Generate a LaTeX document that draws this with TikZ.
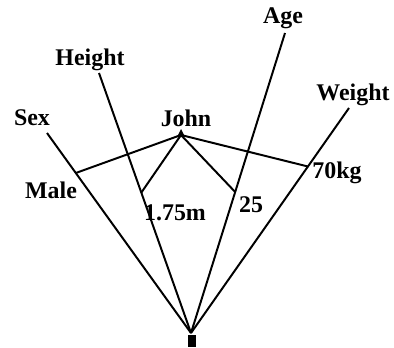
\documentclass[tikz,border=0pt]{standalone}
\usepackage{fontspec}
\setmainfont{Liberation Serif}
\usetikzlibrary{calc}

\tikzset{
  axis/.style={line width=1.4pt},
  link/.style={line width=1.4pt},
  lbl/.style={font=\fontsize{17}{19}\selectfont\bfseries, inner sep=0pt},
  dot/.style={fill=black, draw=none}
}

\begin{document}
\begin{tikzpicture}[scale=0.5]
  \useasboundingbox (0,0) rectangle (19.7,17.35);
  % root of the star
  \coordinate (O) at (9.55,0.7);
  \coordinate (sex) at (2.35,10.7);
  \coordinate (height) at (4.95,13.7);
  \coordinate (age) at (14.25,15.7);
  \coordinate (weight) at (17.45,11.95);
  \coordinate (john) at (9.05,10.6);
  % values on the axes
  \coordinate (male) at ($(O)!0.8!(sex)$);
  \coordinate (hval) at ($(O)!0.54!(height)$);
  \coordinate (aval) at ($(O)!0.47!(age)$);
  \coordinate (wval) at ($(O)!0.74!(weight)$);
  \draw[axis] (O) -- (sex);
  \draw[axis] (O) -- (height);
  \draw[axis] (O) -- (age);
  \draw[axis] (O) -- (weight);
  \draw[link] (john) -- (male);
  \draw[link] (john) -- (hval);
  \draw[link] (john) -- (aval);
  \draw[link] (john) -- (wval);
  \fill[dot] (9.4,0) rectangle (9.8,0.6);
  \fill[dot] ($(john)+(-0.2,-0.1)$) -- ($(john)+(0,0.3)$) -- ($(john)+(0.2,-0.1)$) -- cycle;
  \node[lbl] (sexlbl) at (1.6,11.45) {Sex};
  \node[lbl] (heightlbl) at (4.5,14.35) {Height};
  \node[lbl] (agelbl) at (14.15,16.45) {Age};
  \node[lbl] (weightlbl) at (17.65,12.6) {Weight};
  \node[lbl] (johnlbl) at (9.3,11.45) {John};
  \node[lbl] (malelbl) at (2.55,7.85) {Male};
  \node[lbl] (hvallbl) at (8.75,6.7) {1.75m};
  \node[lbl] (avallbl) at (12.55,7.1) {25};
  \node[lbl] (wvallbl) at (16.85,8.7) {70kg};
\end{tikzpicture}
\end{document}
